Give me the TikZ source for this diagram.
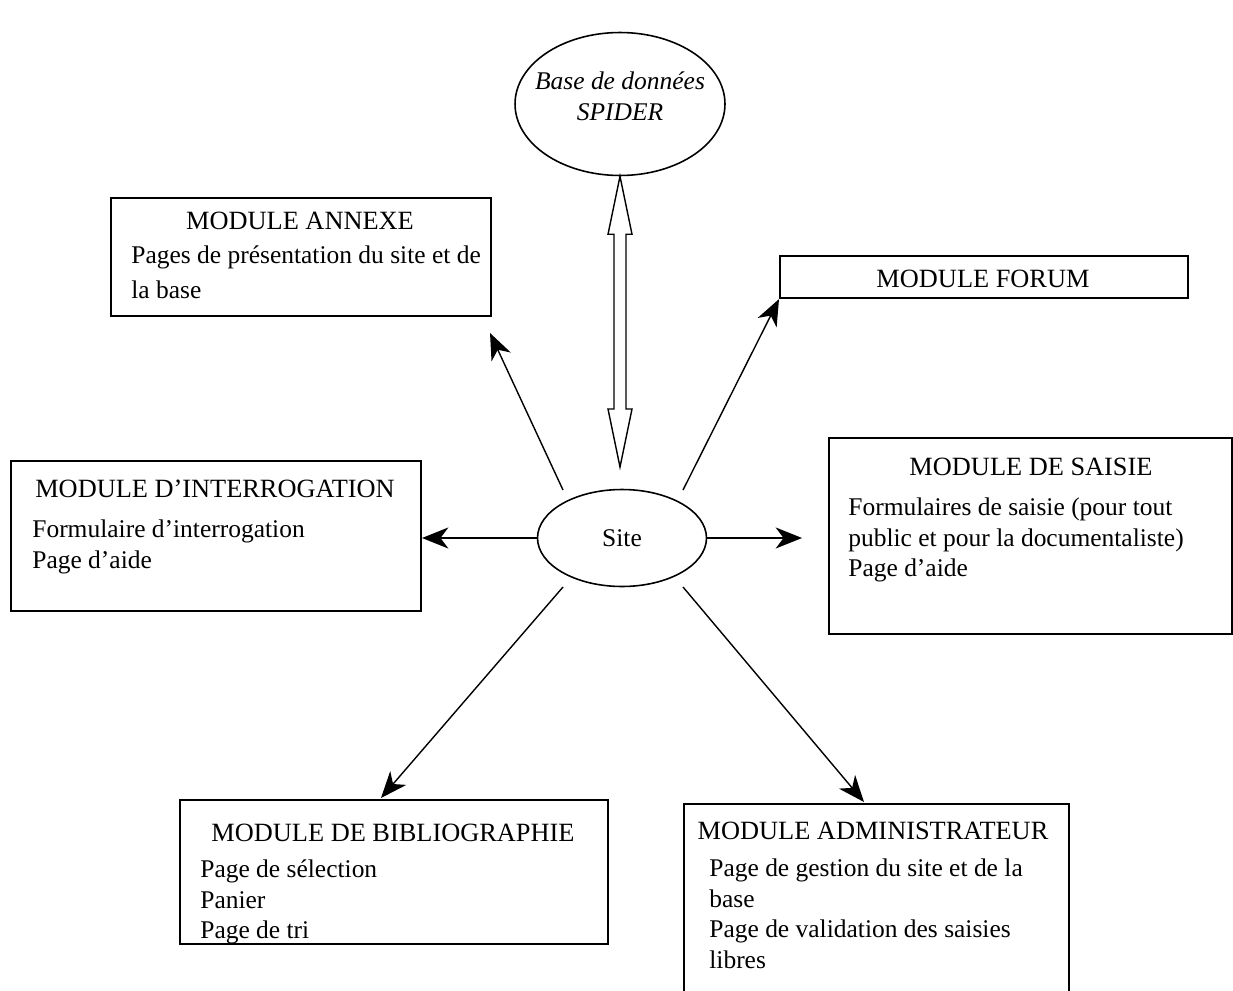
\documentclass[tikz,border=0pt]{standalone}
\usepackage{fontspec}
\setmainfont{Liberation Serif}
\usetikzlibrary{arrows.meta,shapes.geometric,calc}

\tikzset{
    module/.style={draw, line width=1.2pt, anchor=north west, inner sep=0pt},
    bulle/.style={draw, ellipse, line width=0.9pt, inner sep=0pt},
    titre/.style={anchor=base, inner sep=0pt, font=\fontsize{15}{17.4}\selectfont},
    corps/.style={anchor=north west, inner sep=0pt, align=left},
    fleche/.style={line width=0.8pt, -{Stealth[length=15pt,width=12pt,inset=4.5pt]}},
}

\begin{document}
\begin{tikzpicture}[x=0.02cm, y=-0.02cm, font=\fontsize{14.5}{17.4}\selectfont]
    \useasboundingbox (0,0) rectangle (1233,990);

    % Base et site
    \node[bulle, minimum width=4.2cm, minimum height=2.86cm] (base) at (620,104) {};
    \node[align=center, inner sep=0pt, font=\fontsize{14.5}{17.4}\selectfont\itshape] (base-texte)
        at (620,96) {Base de données\\SPIDER};
    \node[bulle, minimum width=3.38cm, minimum height=1.94cm] (site) at (622,538) {Site};

    % Double fleche base <-> site
    \coordinate (dbas) at (620,467);
    \draw[line width=0.8pt] (base.south) -- ++(12,58) -- ++(-6,0) -- ($(dbas)+(6,-58)$) -- ++(6,0)
        -- (dbas) -- ++(-12,-58) -- ++(6,0) -- ($(base.south)+(-6,58)$) -- ++(-6,0) -- cycle;

    % Modules
    \node[module, minimum width=7.6cm, minimum height=2.36cm] (annexe) at (110,197) {};
    \node[titre] (annexe-titre) at (300,229) {MODULE ANNEXE};
    \node[corps] (annexe-texte) at (131,245) {Pages de présentation du site et de\\[3pt]la base};

    \node[module, minimum width=8.16cm, minimum height=0.84cm] (forum) at (779,255) {};
    \node[titre] (forum-titre) at (983,287) {MODULE FORUM};

    \node[module, minimum width=8.2cm, minimum height=3cm] (interro) at (10,460) {};
    \node[titre] (interro-titre) at (215,497) {MODULE D’INTERROGATION};
    \node[corps] (interro-texte) at (32,519.5) {Formulaire d’interrogation\\Page d’aide};

    \node[module, minimum width=8.06cm, minimum height=3.92cm] (saisie) at (828,437) {};
    \node[titre] (saisie-titre) at (1031,475) {MODULE DE SAISIE};
    \node[corps] (saisie-texte) at (848,497.5) {Formulaires de saisie (pour tout\\public et pour la documentaliste)\\Page d’aide};

    \node[module, minimum width=8.56cm, minimum height=2.88cm] (biblio) at (179,799) {};
    \node[titre] (biblio-titre) at (393,841) {MODULE DE BIBLIOGRAPHIE};
    \node[corps] (biblio-texte) at (200,859.5) {Page de sélection\\Panier\\Page de tri};

    \node[module, minimum width=7.7cm, minimum height=3.84cm] (admin) at (683,803) {};
    \node[titre] (admin-titre) at (873,839) {MODULE ADMINISTRATEUR};
    \node[corps] (admin-texte) at (709,858.5) {Page de gestion du site et de la\\base\\Page de validation des saisies\\libres};

    % Fleches depuis le site
    \coordinate (s-annexe) at (563,490);
    \coordinate (e-annexe) at (490,333);
    \coordinate (s-forum) at (683,490);
    \coordinate (e-saisie) at (802,538);
    \coordinate (s-biblio) at (563,587);
    \coordinate (e-biblio) at (381,798);
    \coordinate (s-admin) at (683,587);
    \coordinate (e-admin) at (864,802);

    \draw[fleche] (s-annexe) -- (e-annexe);
    \draw[fleche] (s-forum) -- (forum.south west);
    \draw[fleche] (site.west) -- (interro.east |- site.west);
    \draw[fleche] (site.east) -- (e-saisie);
    \draw[fleche] (s-biblio) -- (e-biblio);
    \draw[fleche] (s-admin) -- (e-admin);
\end{tikzpicture}
\end{document}
